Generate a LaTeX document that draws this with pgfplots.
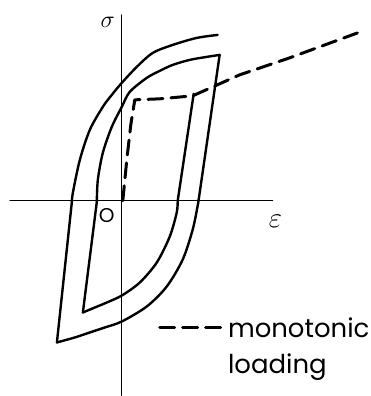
\documentclass[border=0pt]{standalone}
\usepackage{fontspec}
\setmainfont{Poppins}
\usepackage{pgfplots}
\pgfplotsset{compat=1.18}

\begin{document}
\begin{tikzpicture}
\begin{axis}[
    width=185.5pt, height=198pt, scale only axis,
    xmin=0, xmax=371, ymin=0, ymax=396, y dir=reverse,
    hide axis, clip=false,
    every axis plot/.append style={line cap=round, line join=round},
]
\path (rel axis cs:0,0) rectangle (rel axis cs:1,1);
% axes
\addplot[black, line width=0.65pt] coordinates {(122,15) (122,396)};
\addplot[black, line width=0.65pt] coordinates {(10,201) (273,201)};
% outer branch A
\addplot[black, line width=1.2pt, smooth] coordinates {
  (218,35) (197,38) (173,45) (153,53) (137,67) (122,83) (112,95)
  (103,107) (90,130) (80,160) (73,193) (72,202)};
\addplot[black, line width=1.2pt] coordinates {(72,202) (57,343)};
% branch B
\addplot[black, line width=1.2pt, smooth] coordinates {
  (57,343) (75,338) (90,333) (105,328) (122,322) (147,307) (167,287)
  (183,260) (193,230) (198,206) (199,200)};
\addplot[black, line width=1.2pt] coordinates {(199,200) (220,55)};
% branch C
\addplot[black, line width=1.2pt, smooth] coordinates {
  (220,55) (207,57) (190,60) (173,65) (160,71) (147,78) (130,92)
  (122,107) (112,127) (103,153) (98,180) (97,202)};
\addplot[black, line width=1.2pt] coordinates {(97,202) (83,313)};
% branch D
\addplot[black, line width=1.2pt, smooth] coordinates {
  (83,313) (95,308) (107,303) (122,296) (140,283) (157,263) (170,237)
  (177,213) (178,201)};
\addplot[black, line width=1.2pt] coordinates {(178,201) (194,94)};
% monotonic loading
\addplot[black, line width=1.5pt, dash pattern=on 7.5pt off 4pt] coordinates {
  (123,201) (127,160) (131,125) (135,100) (160,99) (193,96)
  (240,75) (290,58) (358,33)};
% legend sample
\addplot[black, line width=1.5pt, dash pattern=on 7.5pt off 4pt] coordinates {(160,328) (223,328)};
\node[anchor=base west, inner sep=0pt] at (axis cs:228,338) {\fontsize{13}{15}\selectfont monotonic};
\node[anchor=base west, inner sep=0pt] at (axis cs:228,374) {\fontsize{13}{15}\selectfont loading};
% labels
\node at (axis cs:108,22) {\fontsize{13}{13}\selectfont$\sigma$};
\node at (axis cs:276,222) {\fontsize{14}{14}\selectfont$\varepsilon$};
\node at (axis cs:107,216) {\fontsize{10}{10}\selectfont O};
\end{axis}
\end{tikzpicture}
\end{document}
